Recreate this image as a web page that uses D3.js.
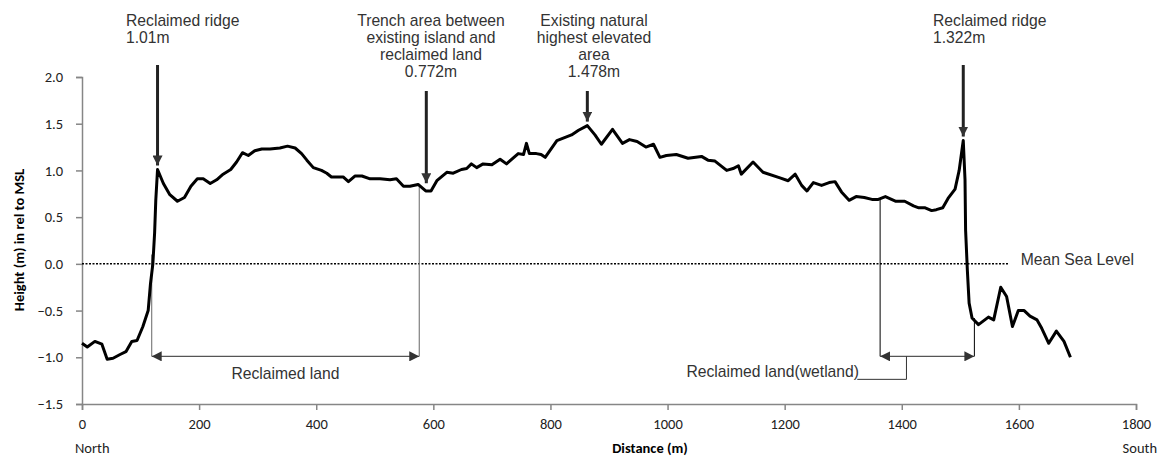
<!DOCTYPE html>
<html>
<head>
<meta charset="utf-8">
<script src="https://cdn.jsdelivr.net/npm/d3@7"></script>
<style>
  body { margin: 0; background: #fff; }
  .axis path, .axis line { stroke: #868686; stroke-width: 1.5; }
  .axis text { font-family: Carlito, Lato, "Open Sans", sans-serif; font-size: 14.5px; fill: #222; }
  .note { font-family: "Liberation Sans", Arial, sans-serif; font-size: 15.7px; fill: #333; }
  .lbl { font-family: Carlito, Lato, sans-serif; font-size: 14.5px; fill: #222; }
  .profile { fill: none; stroke: #000; stroke-width: 3; stroke-linejoin: round; }
</style>
</head>
<body>
<svg width="1163" height="459"></svg>
<script>
// profile distance (m) and height (m rel. to MSL)
var distance = [0, 9, 22, 34, 43, 53, 65, 75, 85, 94, 104, 113, 117, 121, 124, 126, 129,
  139, 150, 163, 175, 186, 197, 207, 219, 230, 241, 254, 264, 274, 284, 295, 307, 321, 338,
  351, 364, 375, 384, 395, 409, 418, 426, 446, 455, 466, 478, 492, 509, 526, 537, 549, 560,
  574, 587, 596, 606, 623, 634, 648, 657, 665, 674, 685, 700, 714, 725, 745, 754, 759, 764,
  776, 784, 791, 811, 836, 848, 863, 876, 887, 906, 923, 935, 948, 963, 976, 987, 998,
  1015, 1035, 1058, 1069, 1081, 1101, 1112, 1121, 1126, 1146, 1163, 1192, 1206, 1218, 1229,
  1238, 1249, 1263, 1276, 1286, 1297, 1310, 1322, 1336, 1349, 1360, 1372, 1390, 1405, 1420,
  1429, 1440, 1451, 1459, 1470, 1479, 1491, 1498, 1505, 1508, 1509, 1512, 1515, 1520, 1531,
  1548, 1557, 1569, 1579, 1589, 1599, 1609, 1619, 1631, 1639, 1651, 1664, 1677, 1688];
var height = [-0.85, -0.89, -0.83, -0.86, -1.02, -1.01, -0.97, -0.94, -0.83, -0.82, -0.67, -0.50, -0.21, 0.0, 0.33, 0.68, 1.01,
  0.86, 0.74, 0.67, 0.71, 0.83, 0.91, 0.91, 0.86, 0.90, 0.96, 1.01, 1.09, 1.19, 1.16, 1.21, 1.23, 1.23, 1.24,
  1.26, 1.24, 1.18, 1.11, 1.03, 1.00, 0.97, 0.93, 0.93, 0.88, 0.94, 0.94, 0.91, 0.91, 0.90, 0.91, 0.83, 0.83,
  0.85, 0.78, 0.78, 0.89, 0.98, 0.97, 1.01, 1.02, 1.07, 1.03, 1.07, 1.06, 1.12, 1.07, 1.18, 1.17, 1.29, 1.18,
  1.18, 1.17, 1.14, 1.32, 1.38, 1.43, 1.48, 1.38, 1.28, 1.44, 1.29, 1.33, 1.31, 1.25, 1.28, 1.14, 1.16,
  1.17, 1.13, 1.15, 1.11, 1.10, 1.00, 1.02, 1.05, 0.96, 1.09, 0.98, 0.92, 0.89, 0.96, 0.84,
  0.78, 0.87, 0.84, 0.87, 0.88, 0.77, 0.68, 0.72, 0.71, 0.69, 0.69, 0.72, 0.67, 0.67, 0.62,
  0.60, 0.60, 0.57, 0.58, 0.60, 0.70, 0.80, 1.00, 1.32, 0.90, 0.36, -0.07, -0.42, -0.58, -0.65,
  -0.57, -0.60, -0.25, -0.35, -0.67, -0.50, -0.50, -0.56, -0.60, -0.69, -0.85, -0.72, -0.83, -1.00];

var xTicks = [0, 200, 400, 600, 800, 1000, 1200, 1400, 1600, 1800];
var yTicks = [-1.5, -1.0, -0.5, 0.0, 0.5, 1.0, 1.5, 2.0];

// callouts: pointed distance, top of arrow, text lines
var calloutDist = [129, 588, 863, 1505];
var calloutTop = [65, 91, 91, 65];
var calloutLines = [
  ["Reclaimed ridge", "1.01m"],
  ["Trench area between", "existing island and", "reclaimed land", "0.772m"],
  ["Existing natural", "highest elevated", "area", "1.478m"],
  ["Reclaimed ridge", "1.322m"]
];
var calloutAlign = ["start", "middle", "middle", "start"];
var calloutTextX = [126, 431, 594, 933];

// reclaimed zones (m)
var reclaimedLand = [119, 576];
var wetland = [1363, 1524];

var svg = d3.select("svg"),
    margin = {top: 77, right: 27, bottom: 55, left: 82},
    width = +svg.attr("width") - margin.left - margin.right,
    height2 = +svg.attr("height") - margin.top - margin.bottom;

var x = d3.scaleLinear().domain([0, 1800]).range([0, width]),
    y = d3.scaleLinear().domain([-1.5, 2.0]).range([height2, 0]);

var g = svg.append("g")
    .attr("transform", "translate(" + margin.left + "," + margin.top + ")");

svg.append("defs").selectAll("marker")
  .data(["end", "start"]).enter().append("marker")
    .attr("id", function(d) { return "arr-" + d; })
    .attr("viewBox", "0 0 10 10")
    .attr("refX", function(d) { return d == "end" ? 10 : 0; })
    .attr("refY", 5)
    .attr("markerWidth", 10).attr("markerHeight", 10)
    .attr("markerUnits", "userSpaceOnUse")
    .attr("orient", "auto")
  .append("path")
    .attr("d", function(d) { return d == "end" ? "M0,0L10,5L0,10Z" : "M10,0L0,5L10,10Z"; })
    .attr("fill", "#333");

var xAxis = d3.axisBottom(x).tickValues(xTicks).tickFormat(d3.format("d")).tickSizeOuter(0).tickSize(6).tickPadding(9);
var yAxis = d3.axisLeft(y).tickValues(yTicks).tickFormat(d3.format(".1f")).tickSizeOuter(0).tickSize(6).tickPadding(13);

g.append("g").attr("class", "axis").attr("transform", "translate(0," + height2 + ")").call(xAxis);
g.append("g").attr("class", "axis").call(yAxis);

// mean sea level
g.append("line")
  .attr("x1", 0).attr("x2", x(1584))
  .attr("y1", y(0)).attr("y2", y(0))
  .attr("stroke", "#000").attr("stroke-width", 1.5).attr("stroke-dasharray", "2,1.5");
g.append("text").attr("class", "note")
  .attr("x", x(1603)).attr("y", y(0) + 1)
  .text("Mean Sea Level");

var baseY = y(-0.99);

// reclaimed land bracket
g.selectAll(".vl").data(reclaimedLand).enter().append("line")
  .attr("x1", function(d) { return x(d); }).attr("x2", function(d) { return x(d); })
  .attr("y1", function(d, i) { return i == 0 ? y(0.1) : y(0.83); }).attr("y2", baseY)
  .attr("stroke", "#7f7f7f").attr("stroke-width", 1.2);
g.append("line")
  .attr("x1", x(reclaimedLand[0])).attr("x2", x(reclaimedLand[1]))
  .attr("y1", baseY).attr("y2", baseY)
  .attr("stroke", "#555").attr("stroke-width", 1.2)
  .attr("marker-start", "url(#arr-start)").attr("marker-end", "url(#arr-end)");
g.append("text").attr("class", "note")
  .attr("x", x(d3.mean(reclaimedLand))).attr("y", baseY + 23)
  .attr("text-anchor", "middle").text("Reclaimed land");

// wetland bracket
g.selectAll(".vw").data(wetland).enter().append("line")
  .attr("x1", function(d) { return x(d); }).attr("x2", function(d) { return x(d); })
  .attr("y1", function(d, i) { return i == 0 ? y(0.69) : y(-0.58); }).attr("y2", baseY)
  .attr("stroke", "#000").attr("stroke-width", 1);
g.append("line")
  .attr("x1", x(wetland[0])).attr("x2", x(wetland[1]))
  .attr("y1", baseY).attr("y2", baseY)
  .attr("stroke", "#555").attr("stroke-width", 1.2)
  .attr("marker-start", "url(#arr-start)").attr("marker-end", "url(#arr-end)");
g.append("polyline")
  .attr("points", [[x(1408), baseY], [x(1408), baseY + 23], [x(1324), baseY + 23]].join(" "))
  .attr("fill", "none").attr("stroke", "#333").attr("stroke-width", 1);
g.append("text").attr("class", "note")
  .attr("x", x(1327)).attr("y", baseY + 21)
  .attr("text-anchor", "end").text("Reclaimed land(wetland)");

// profile
var line = d3.line()
  .x(function(d, i) { return x(distance[i]); })
  .y(function(d) { return y(d); });
g.append("path").attr("class", "profile").attr("d", line(height));

// callouts
calloutDist.forEach(function(d, i) {
  var tipIdx = distance.indexOf(d);
  var tip = tipIdx >= 0 ? y(height[tipIdx]) : y(0.82);
  svg.append("line")
    .attr("x1", margin.left + x(d)).attr("x2", margin.left + x(d))
    .attr("y1", calloutTop[i]).attr("y2", margin.top + tip - 4)
    .attr("stroke", "#222").attr("stroke-width", 3)
    .attr("marker-end", "url(#arr-end)");
  var t = svg.append("text").attr("class", "note")
    .attr("text-anchor", calloutAlign[i]);
  calloutLines[i].forEach(function(s, j) {
    t.append("tspan").attr("x", calloutTextX[i]).attr("y", 26 + j * 17).text(s);
  });
});

// axis titles
svg.append("text").attr("class", "lbl")
  .attr("transform", "translate(24,240) rotate(-90)")
  .attr("text-anchor", "middle")
  .style("font-weight", "bold").style("fill", "#000")
  .text("Height (m) in rel to MSL");
svg.append("text").attr("class", "lbl")
  .attr("x", 650).attr("y", 453)
  .attr("text-anchor", "middle")
  .style("font-weight", "bold").style("fill", "#000")
  .text("Distance (m)");
svg.append("text").attr("class", "lbl").attr("x", 75).attr("y", 453).text("North");
svg.append("text").attr("class", "lbl").attr("x", 1157).attr("y", 453)
  .attr("text-anchor", "end").text("South");
</script>
</body>
</html>
